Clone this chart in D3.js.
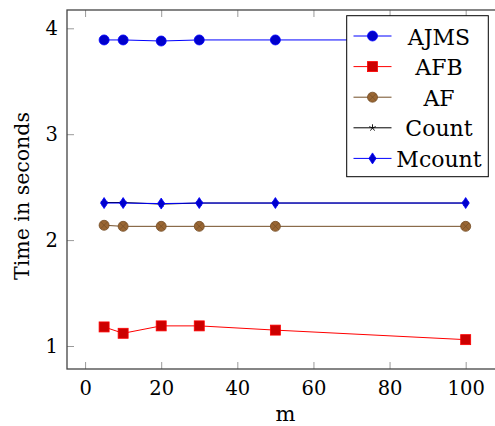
<!DOCTYPE html>
<html>
<head>
<meta charset="utf-8">
<script src="https://cdn.jsdelivr.net/npm/d3@7"></script>
<style>
  html, body { margin: 0; padding: 0; background: #fff; }
  svg { display: block; }
  text { font-family: "DejaVu Serif", serif; fill: #000; }
</style>
</head>
<body>
<svg id="chart" width="495" height="426"></svg>
<script>
// Run time versus m for each method
const mValues = [5, 10, 20, 30, 50, 100];
const ajms   = [3.89, 3.89, 3.88, 3.89, 3.89, 3.89];
const afb    = [1.18, 1.12, 1.19, 1.19, 1.15, 1.06];
const af     = [2.14, 2.13, 2.13, 2.13, 2.13, 2.13];
const count  = [2.355, 2.355, 2.34, 2.35, 2.35, 2.35];
const mcount = [2.35, 2.35, 2.345, 2.35, 2.35, 2.35];
const xTicks = [0, 20, 40, 60, 80, 100];
const yTicks = [1, 2, 3, 4];
const seriesNames = ["AJMS", "AFB", "AF", "Count", "Mcount"];

const series = [
  { name: seriesNames[0], values: ajms,   line: "#0000ff", fill: "#0000cc", mark: "circle" },
  { name: seriesNames[1], values: afb,    line: "#ff0000", fill: "#cc0000", mark: "square" },
  { name: seriesNames[2], values: af,     line: "#734d26", fill: "#996633", mark: "otimes" },
  { name: seriesNames[3], values: count,  line: "#000000", fill: "#000000", mark: "star" },
  { name: seriesNames[4], values: mcount, line: "#0000ff", fill: "#0000cc", mark: "diamond" }
];

const svg = d3.select("#chart");
const plotLeft = 67, plotTop = 10, plotBottom = 369;
const x = d3.scaleLinear().domain([-4.75, 110]).range([plotLeft, plotLeft + 114.75 * 3.806]);
const y = d3.scaleLinear().domain([1, 4]).range([346, 28.3]);
const plotRight = x(110);

// ticks on all four sides, pointing inward
const tickLen = 7;
const fmt = d3.format("d");
const gx = svg.append("g").attr("transform", `translate(0,${plotBottom})`)
  .call(d3.axisBottom(x).tickValues(xTicks).tickFormat(fmt).tickSizeInner(-tickLen).tickSizeOuter(0).tickPadding(12));
const gxTop = svg.append("g").attr("transform", `translate(0,${plotTop})`)
  .call(d3.axisTop(x).tickValues(xTicks).tickSizeInner(-tickLen).tickSizeOuter(0).tickFormat(""));
const gy = svg.append("g").attr("transform", `translate(${plotLeft},0)`)
  .call(d3.axisLeft(y).tickValues(yTicks).tickFormat(fmt).tickSizeInner(-tickLen).tickSizeOuter(0).tickPadding(9));
const gyRight = svg.append("g").attr("transform", `translate(${plotRight},0)`)
  .call(d3.axisRight(y).tickValues(yTicks).tickSizeInner(-tickLen).tickSizeOuter(0).tickFormat(""));

[gx, gxTop, gy, gyRight].forEach(g => {
  g.attr("font-family", null);
  g.select(".domain").remove();
  g.selectAll(".tick line").attr("stroke", "#9a9a9a").attr("stroke-width", 1);
  g.selectAll(".tick text").attr("font-size", 19.5).attr("fill", "#000");
});

// axis frame
svg.append("rect")
  .attr("x", plotLeft).attr("y", plotTop)
  .attr("width", plotRight - plotLeft).attr("height", plotBottom - plotTop)
  .attr("fill", "none").attr("stroke", "#444").attr("stroke-width", 1.3);

// axis titles
svg.append("text")
  .attr("x", (plotLeft + plotRight) / 2).attr("y", 421)
  .attr("text-anchor", "middle").attr("font-size", 21).text("m");
svg.append("text")
  .attr("transform", `translate(29,196) rotate(-90)`)
  .attr("text-anchor", "middle").attr("font-size", 20.5).text("Time in seconds");

// marker drawing
function drawMark(g, s, cx, cy) {
  if (s.mark === "circle") {
    g.append("circle").attr("cx", cx).attr("cy", cy).attr("r", 5)
      .attr("fill", s.fill).attr("stroke", s.line).attr("stroke-width", 0.8);
  } else if (s.mark === "square") {
    g.append("rect").attr("x", cx - 5).attr("y", cy - 5).attr("width", 10).attr("height", 10)
      .attr("fill", s.fill).attr("stroke", s.line).attr("stroke-width", 0.8);
  } else if (s.mark === "otimes") {
    g.append("circle").attr("cx", cx).attr("cy", cy).attr("r", 5)
      .attr("fill", s.fill).attr("stroke", s.line).attr("stroke-width", 0.8);
    const d = 3.5;
    g.append("path")
      .attr("d", `M${cx - d},${cy - d}L${cx + d},${cy + d}M${cx - d},${cy + d}L${cx + d},${cy - d}`)
      .attr("stroke", s.line).attr("stroke-width", 0.7);
  } else if (s.mark === "star") {
    const r = 3.5;
    let p = "";
    for (let k = 0; k < 5; k++) {
      const a = -Math.PI / 2 + k * 2 * Math.PI / 5;
      p += `M${cx},${cy}L${cx + r * Math.cos(a)},${cy + r * Math.sin(a)}`;
    }
    g.append("path").attr("d", p).attr("stroke", s.line).attr("stroke-width", 0.9).attr("fill", "none");
  } else if (s.mark === "diamond") {
    g.append("path")
      .attr("d", `M${cx},${cy - 5.5}L${cx + 3.6},${cy}L${cx},${cy + 5.5}L${cx - 3.6},${cy}Z`)
      .attr("fill", s.fill).attr("stroke", s.line).attr("stroke-width", 0.8);
  }
}

const line = d3.line().x(d => x(d[0])).y(d => y(d[1]));
const plot = svg.append("g");
series.forEach(s => {
  const pts = mValues.map((m, i) => [m, s.values[i]]);
  plot.append("path").datum(pts).attr("d", line)
    .attr("fill", "none").attr("stroke", s.line).attr("stroke-width", 1);
  const gm = plot.append("g");
  pts.forEach(p => drawMark(gm, s, x(p[0]), y(p[1])));
});

// legend
const lg = svg.append("g");
lg.append("rect").attr("x", 346.7).attr("y", 15.7).attr("width", 141.6).attr("height", 161)
  .attr("fill", "#fff").attr("stroke", "#000").attr("stroke-width", 1);
series.forEach((s, i) => {
  const cy = 36 + i * 30.6;
  lg.append("line").attr("x1", 353.5).attr("x2", 391.5).attr("y1", cy).attr("y2", cy)
    .attr("stroke", s.line).attr("stroke-width", 1);
  drawMark(lg, s, 372.5, cy);
  lg.append("text").attr("x", 439).attr("y", cy + 8.5)
    .attr("text-anchor", "middle").attr("font-size", 22).text(s.name);
});
</script>
</body>
</html>
